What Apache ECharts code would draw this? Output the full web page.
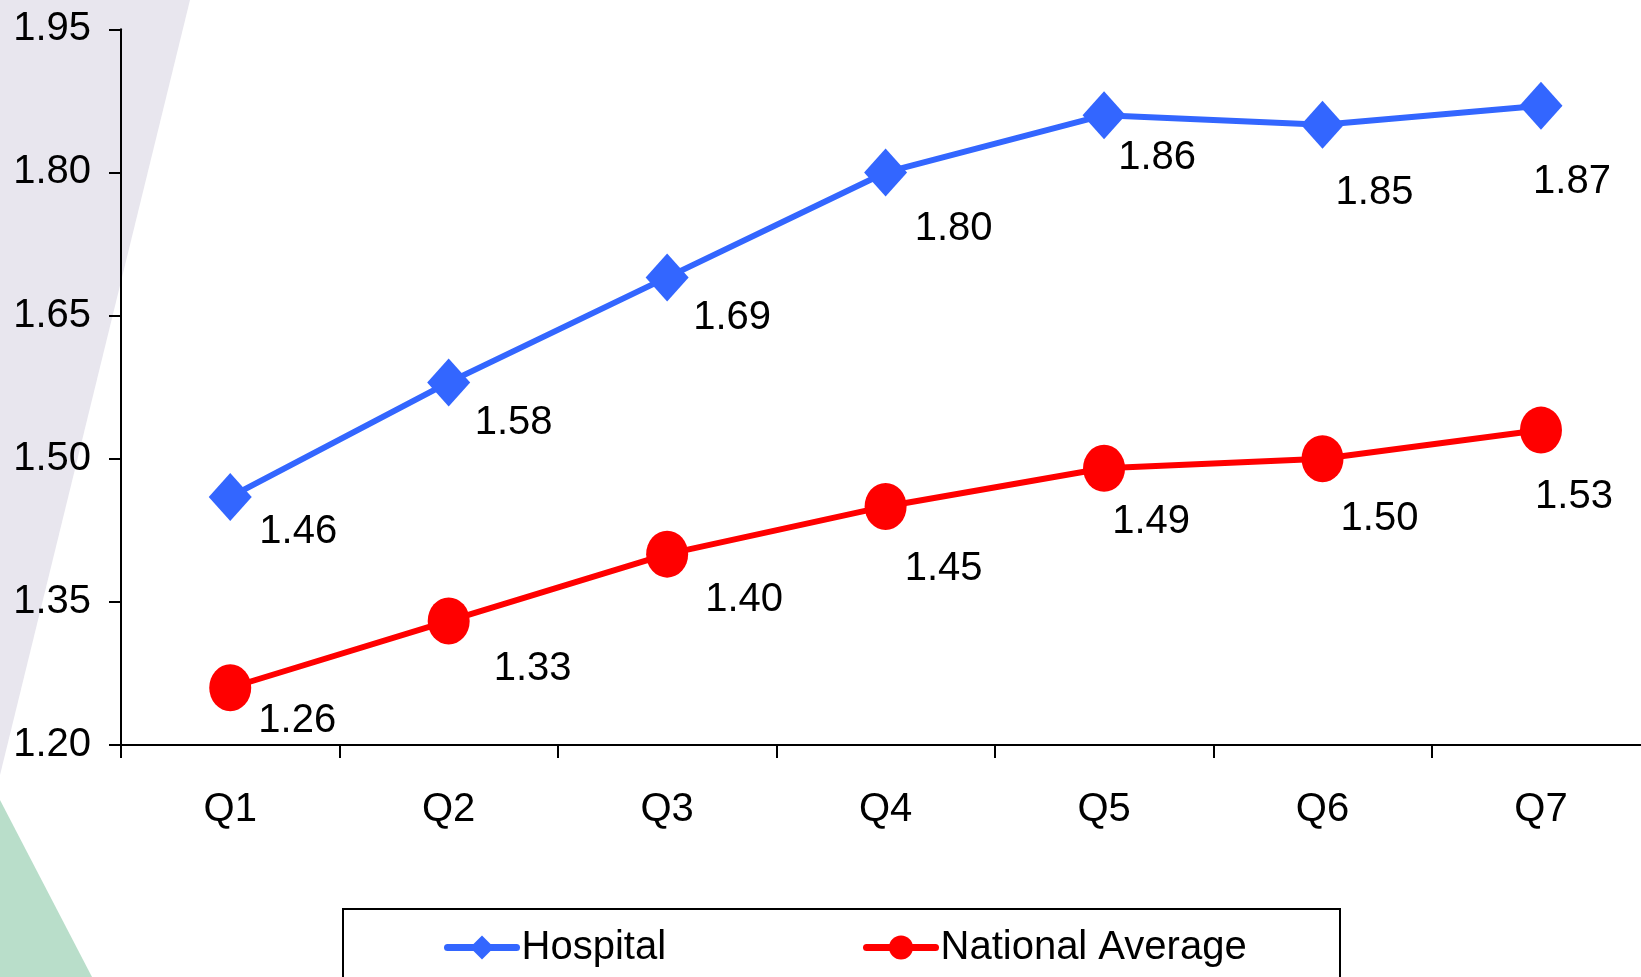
<!DOCTYPE html>
<html>
<head>
<meta charset="utf-8">
<title>Hospital vs National Average</title>
<script src="https://cdn.jsdelivr.net/npm/echarts@6/dist/echarts.min.js"></script>
<style>
  html, body { margin: 0; padding: 0; background: #ffffff; overflow: hidden; }
  #chart { width: 1670px; height: 977px; }
</style>
</head>
<body>
<div id="chart"></div>
<script>
// Quarterly values
const categories = ['Q1', 'Q2', 'Q3', 'Q4', 'Q5', 'Q6', 'Q7'];
const hospital = [1.46, 1.58, 1.69, 1.80, 1.86, 1.85, 1.87];
const nationalAverage = [1.26, 1.33, 1.40, 1.45, 1.49, 1.50, 1.53];

// Value axis range
const yMin = 1.20;
const yMax = 1.95;
const yStep = 0.15;

// Hand-placed value label offsets (label centre relative to the marker)
const hospitalLabelOffsets = [[68, 35], [65, 41], [65, 41], [68, 57], [53, 43], [52, 68], [31, 76]];
const nationalLabelOffsets = [[67, 33], [84, 48], [77, 46], [58, 63], [47, 54], [57, 60], [33, 67]];

const FONT = '"Liberation Sans", Arial, Helvetica, sans-serif';
const ellipse = 'path://M0,50A50,50,0,1,1,100,50A50,50,0,1,1,0,50Z';

function withLabels(values, offsets) {
  return values.map((v, i) => ({ value: v, label: { offset: offsets[i] } }));
}

const valueLabel = {
  show: true,
  position: 'inside',
  color: '#000',
  fontFamily: FONT,
  fontSize: 40,
  formatter: p => Number(p.value).toFixed(2)
};

const legendBase = {
  top: 927.5,
  padding: 0,
  itemWidth: 69,
  itemHeight: 30,
  lineStyle: { width: 7, cap: 'round' },
  textStyle: { color: '#000', fontFamily: FONT, fontSize: 40 }
};

const chart = echarts.init(document.getElementById('chart'), null, { renderer: 'canvas' });

chart.setOption({
  backgroundColor: '#ffffff',
  animation: false,
  graphic: [
    {
      type: 'polygon', z: -10, silent: true,
      shape: { points: [[0, 0], [190, 0], [0, 775]] },
      style: { fill: '#E8E6EE' }
    },
    {
      type: 'polygon', z: -10, silent: true,
      shape: { points: [[0, 800], [92, 977], [0, 977]] },
      style: { fill: '#B9DECA' }
    },
    {
      type: 'rect', z: 1, silent: true,
      shape: { x: 343, y: 909, width: 997, height: 100 },
      style: { fill: '#fff', stroke: '#000', lineWidth: 2 }
    }
  ],
  legend: [
    Object.assign({ data: ['Hospital'], left: 444 }, legendBase),
    Object.assign({ data: ['National Average'], left: 863 }, legendBase)
  ],
  grid: {
    left: 121, top: 29.3, width: 1529.2, height: 715.7,
    containLabel: false, outerBoundsMode: 'none'
  },
  xAxis: {
    type: 'category',
    data: categories,
    boundaryGap: true,
    axisLine: { lineStyle: { color: '#000', width: 2 } },
    axisTick: { show: true, length: 13, lineStyle: { color: '#000', width: 2 } },
    axisLabel: { color: '#000', fontFamily: FONT, fontSize: 40, margin: 45 },
    splitLine: { show: false }
  },
  yAxis: {
    type: 'value',
    min: yMin,
    max: yMax,
    interval: yStep,
    axisLine: { show: true, lineStyle: { color: '#000', width: 2 } },
    axisTick: { show: true, length: 12, lineStyle: { color: '#000', width: 2 } },
    axisLabel: {
      color: '#000', fontFamily: FONT, fontSize: 40, margin: 30,
      formatter: v => v.toFixed(2)
    },
    splitLine: { show: false }
  },
  series: [
    {
      name: 'Hospital',
      type: 'line',
      data: withLabels(hospital, hospitalLabelOffsets),
      symbol: 'diamond',
      symbolSize: [43, 48],
      lineStyle: { color: '#3366FF', width: 6 },
      itemStyle: { color: '#3366FF' },
      label: valueLabel,
      z: 3
    },
    {
      name: 'National Average',
      type: 'line',
      data: withLabels(nationalAverage, nationalLabelOffsets),
      symbol: ellipse,
      symbolSize: [42, 47],
      lineStyle: { color: '#FF0000', width: 6 },
      itemStyle: { color: '#FF0000' },
      label: valueLabel,
      z: 3
    }
  ]
});
</script>
</body>
</html>
